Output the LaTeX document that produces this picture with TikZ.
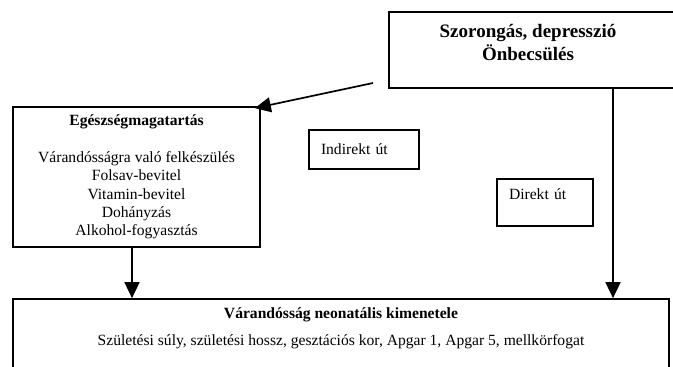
\documentclass[tikz,border=0pt]{standalone}
\usepackage{fontspec}
\setmainfont{Liberation Serif}
\usetikzlibrary{arrows.meta}

\begin{document}
\begin{tikzpicture}[x=1pt,y=-1pt,
  doboz/.style={draw,line width=1.7pt,rectangle,inner sep=0pt},
  nyil/.style={line width=1.7pt,-{Triangle[length=16pt,width=15pt]}},
  szoveg/.style={font=\fontsize{15.6}{18.3}\selectfont,align=center,inner sep=0pt},
  cimszoveg/.style={font=\fontsize{19}{23}\selectfont\bfseries,align=center,inner sep=0pt}]
\useasboundingbox (0,0) rectangle (673,367);
\clip (0,0) rectangle (673,367);
\node[doboz,minimum width=291pt,minimum height=76pt] (szorongas) at (534.5,50) {};
\node[cimszoveg] (szorongascim) at (528,43) {Szorongás, depresszió\\Önbecsülés};
\node[doboz,szoveg,minimum width=247pt,minimum height=140pt] (egeszseg) at (136.5,177) {\textbf{Egészségmagatartás}\\[18.3pt]
Várandósságra való felkészülés\\Folsav-bevitel\\Vitamin-bevitel\\Dohányzás\\Alkohol-fogyasztás};
\node[doboz,szoveg,minimum width=110pt,minimum height=39pt,text width=86pt,align=left,inner xsep=12pt] (indirekt) at (364,149.5) {Indirekt út};
\node[doboz,szoveg,minimum width=96pt,minimum height=47pt,text width=72pt,align=left,inner xsep=12pt,text height=10.6pt,text depth=17.6pt] (direkt) at (545,202.5) {Direkt út};
\node[doboz,minimum width=656pt,minimum height=90pt] (kimenetel) at (341,344) {};
\node[szoveg] (kimenetelszoveg) at (341,328) {\textbf{Várandósság neonatális kimenetele}\\[8.7pt]
Születési súly, születési hossz, gesztációs kor, Apgar 1, Apgar 5, mellkörfogat};
% nyilak
\coordinate (indirektkezd) at (373,83);
\draw[nyil] (indirektkezd) -- ([xshift=-6pt,yshift=-2pt]egeszseg.north east);
\draw[nyil] ([xshift=-4.5pt]egeszseg.south) -- ([xshift=-4.5pt]egeszseg.south |- kimenetel.north);
\draw[nyil] ([xshift=78.5pt]szorongas.south) -- ([xshift=78.5pt]szorongas.south |- kimenetel.north);
\end{tikzpicture}
\end{document}
